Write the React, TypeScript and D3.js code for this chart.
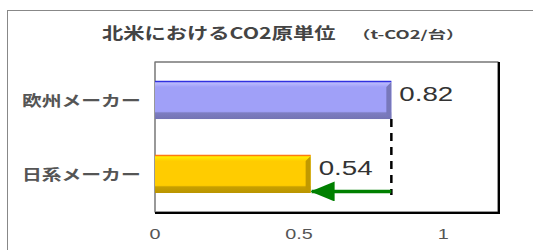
import React, { useEffect, useRef } from "react";
import * as d3 from "d3";

const categories = ["欧州メーカー", "日系メーカー"];
const values = [0.82, 0.54];
const xTicks = [0, 0.5, 1];
const barColors = ["#a0a0f8", "#ffcc00"];
const edgeColors = ["#3030e0", "#ff7a10"];

// the source picture is stretched sideways, so every text is widened a bit
const SX = 1.32;

const App = () => {
  const ref = useRef<SVGSVGElement | null>(null);
  const width = 533,
    height = 250;
  const left = 155,
    right = 498,
    top = 62,
    bottom = 212;

  useEffect(() => {
    const svg = d3.select(ref.current);
    svg.selectAll("*").remove();

    const xScale = d3.scaleLinear().domain([0, 1.19]).range([left, right]);
    const yScale = d3
      .scaleBand()
      .domain(categories)
      .range([top, bottom])
      .paddingInner(0.486)
      .paddingOuter(0.257);

    const addText = (x: number, y: number, anchor: string, sx = SX) =>
      svg
        .append("g")
        .attr("transform", `translate(${x},${y}) scale(${sx},1)`)
        .append("text")
        .attr("text-anchor", anchor);

    const defs = svg.append("defs");
    barColors.forEach((c, i) => {
      const g = defs
        .append("linearGradient")
        .attr("id", "bevel" + i)
        .attr("x1", 0)
        .attr("y1", 0)
        .attr("x2", 0)
        .attr("y2", 1);
      const base = d3.color(c)!;
      g.append("stop").attr("offset", "0%").attr("stop-color", base.brighter(0.6).formatHex());
      g.append("stop").attr("offset", "16%").attr("stop-color", c);
      g.append("stop").attr("offset", "80%").attr("stop-color", c);
      g.append("stop").attr("offset", "84%").attr("stop-color", base.darker(0.7).formatHex());
      g.append("stop").attr("offset", "100%").attr("stop-color", base.darker(0.9).formatHex());
    });
    const marker = defs
      .append("marker")
      .attr("id", "arrow")
      .attr("viewBox", "0 0 24 20")
      .attr("refX", 23)
      .attr("refY", 10)
      .attr("markerWidth", 24)
      .attr("markerHeight", 20)
      .attr("markerUnits", "userSpaceOnUse")
      .attr("orient", "auto");
    marker.append("path").attr("d", "M0,0 L24,10 L0,20 Z").attr("fill", "#008000");

    // outer chart frame
    svg
      .append("rect")
      .attr("x", 7.5)
      .attr("y", 10.5)
      .attr("width", 540)
      .attr("height", 260)
      .attr("fill", "white")
      .attr("stroke", "#888")
      .attr("stroke-width", 1);

    // title
    addText(102, 39, "start", 1.33)
      .attr("fill", "#444")
      .style("font-family", "'Noto Sans CJK JP', sans-serif")
      .style("font-weight", "bold")
      .style("font-size", "16px")
      .text("北米におけるCO2原単位");
    addText(352, 39, "start", 1.6)
      .attr("fill", "#444")
      .style("font-family", "'Noto Sans CJK JP', sans-serif")
      .style("font-weight", "bold")
      .style("font-size", "11.5px")
      .text("（t-CO2/台）");

    // plot area
    svg
      .append("rect")
      .attr("x", left)
      .attr("y", top)
      .attr("width", right - left)
      .attr("height", bottom - top)
      .attr("fill", "white")
      .attr("stroke", "#333")
      .attr("stroke-width", 1);
    svg
      .append("path")
      .attr("d", `M${left},${bottom + 1} H${right + 1} V${top}`)
      .attr("fill", "none")
      .attr("stroke", "#000")
      .attr("stroke-width", 2);
    svg
      .append("line")
      .attr("x1", left)
      .attr("x2", left)
      .attr("y1", top)
      .attr("y2", bottom)
      .attr("stroke", "#999");

    // bars
    categories.forEach((c, i) => {
      const y = yScale(c)!;
      const h = yScale.bandwidth();
      const x0 = xScale(0);
      const x1 = xScale(values[i]);
      svg
        .append("rect")
        .attr("x", x0)
        .attr("y", y)
        .attr("width", x1 - x0)
        .attr("height", h)
        .attr("fill", `url(#bevel${i})`);
      svg
        .append("line")
        .attr("x1", x0)
        .attr("x2", x1)
        .attr("y1", y + 0.5)
        .attr("y2", y + 0.5)
        .attr("stroke", edgeColors[i])
        .attr("stroke-width", 1.5);
      svg
        .append("path")
        .attr("d", `M${x1},${y + 1} L${x1},${y + h} L${x1 - 5},${y + h - 5} L${x1 - 5},${y + 6} Z`)
        .attr("fill", d3.color(barColors[i])!.darker(0.8).formatHex());
      addText(x1 + 8, y + 20, "start")
        .attr("fill", "#333")
        .style("font-family", "'Liberation Sans', Arial, sans-serif")
        .style("font-size", "21px")
        .text(values[i].toFixed(2));
      addText(22, y + h / 2 + 6, "start")
        .attr("fill", "#555")
        .style("font-family", "'Noto Sans CJK JP', sans-serif")
        .style("font-weight", "bold")
        .style("font-size", "15px")
        .text(c);
    });

    // dashed reference line and arrow
    const xEu = xScale(values[0]);
    const xJp = xScale(values[1]);
    const yEuBottom = yScale(categories[0])! + yScale.bandwidth();
    const yJpBottom = yScale(categories[1])! + yScale.bandwidth();
    svg
      .append("line")
      .attr("x1", xEu)
      .attr("x2", xEu)
      .attr("y1", yEuBottom)
      .attr("y2", yJpBottom + 2)
      .attr("stroke", "#000")
      .attr("stroke-width", 2.5)
      .attr("stroke-dasharray", "8,6");
    svg
      .append("line")
      .attr("x1", xEu)
      .attr("x2", xJp + 1)
      .attr("y1", yJpBottom - 1.5)
      .attr("y2", yJpBottom - 1.5)
      .attr("stroke", "#008000")
      .attr("stroke-width", 3.5)
      .attr("marker-end", "url(#arrow)");

    // x axis labels
    xTicks.forEach((t) => {
      addText(xScale(t), 239, "middle")
        .attr("fill", "#555")
        .style("font-family", "'Liberation Sans', Arial, sans-serif")
        .style("font-size", "15px")
        .text(String(t));
    });
  }, []);

  return (
    <svg
      ref={ref}
      width={width}
      height={height}
      style={{ position: "fixed", left: 0, top: 0, background: "white" }}
    ></svg>
  );
};
export default App;
